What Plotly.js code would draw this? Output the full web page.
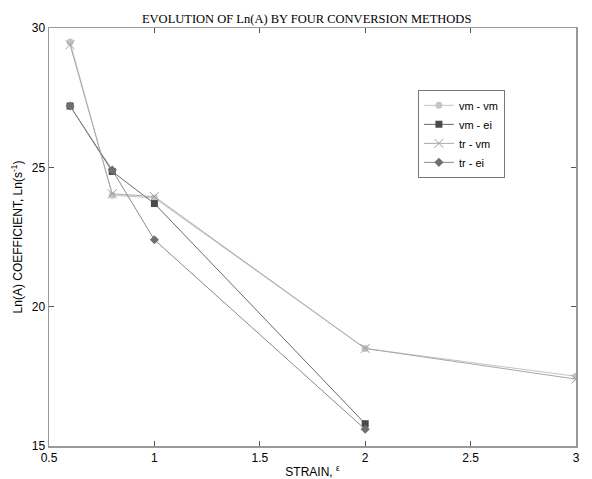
<!DOCTYPE html>
<html>
<head>
<meta charset="utf-8">
<script src="https://cdn.plot.ly/plotly-3.0.1.min.js"></script>
<style>html,body{margin:0;padding:0;background:#fff;}#chart{width:592px;height:479px;}</style>
</head>
<body>
<div id="chart"></div>
<script>
var strain = [0.6, 0.8, 1, 2, 3];
var strainShort = [0.6, 0.8, 1, 2];
var vmvm = [29.5, 24.0, 23.9, 18.5, 17.5];
var vmei = [27.2, 24.85, 23.7, 15.8];
var trvm = [29.4, 24.05, 23.95, 18.5, 17.4];
var trei = [27.2, 24.9, 22.4, 15.6];
var names = ['vm - vm', 'vm - ei', 'tr - vm', 'tr - ei'];

var traces = [
  {x: strain, y: vmvm, name: names[0], mode: 'lines+markers', type: 'scatter',
   line: {color: '#c4c4c4', width: 1}, marker: {symbol: 'circle', size: 7, color: '#c4c4c4'}},
  {x: strainShort, y: vmei, name: names[1], mode: 'lines+markers', type: 'scatter',
   line: {color: '#6a6a6a', width: 1}, marker: {symbol: 'square', size: 7, color: '#4a4a4a'}},
  {x: strain, y: trvm, name: names[2], mode: 'lines+markers', type: 'scatter',
   line: {color: '#a8a8a8', width: 1}, marker: {symbol: 'x-thin-open', size: 9, color: '#a0a0a0', line: {width: 1, color: '#a0a0a0'}}},
  {x: strainShort, y: trei, name: names[3], mode: 'lines+markers', type: 'scatter',
   line: {color: '#8a8a8a', width: 1}, marker: {symbol: 'diamond', size: 7, color: '#6f6f6f'}}
];

var layout = {
  width: 592, height: 479,
  margin: {l: 49, r: 16, t: 28, b: 33},
  paper_bgcolor: '#fff', plot_bgcolor: '#fff',
  font: {family: 'Liberation Sans, Arial, sans-serif', size: 12, color: '#000'},
  title: {text: 'EVOLUTION OF Ln(A) BY FOUR CONVERSION METHODS',
          font: {family: 'Liberation Serif, Times New Roman, serif', size: 12.5, color: '#000'},
          x: 0.518, xanchor: 'center', y: 0.961, yanchor: 'middle'},
  xaxis: {range: [0.5, 3], tickvals: [0.5, 1, 1.5, 2, 2.5, 3], ticktext: ['0.5', '1', '1.5', '2', '2.5', '3'],
          ticks: 'inside', ticklen: 5, tickcolor: '#555', tickwidth: 1,
          showline: true, linecolor: '#999', linewidth: 1.5, mirror: 'ticks',
          showgrid: false, zeroline: false,
          tickfont: {size: 12},
          title: {text: 'STRAIN, <sup>ε</sup>', font: {size: 12}, standoff: 4}},
  yaxis: {range: [15, 30], tickvals: [15, 20, 25, 30],
          ticks: 'inside', ticklen: 5, tickcolor: '#555', tickwidth: 1,
          showline: true, linecolor: '#999', linewidth: 1.5, mirror: 'ticks',
          showgrid: false, zeroline: false,
          tickfont: {size: 12},
          title: {text: 'Ln(A) COEFFICIENT, Ln(s<sup>-1</sup>)', font: {size: 12}, standoff: 6}},
  legend: {x: 0.70, y: 0.852, xanchor: 'left', yanchor: 'top',
           bgcolor: '#fff', bordercolor: '#777', borderwidth: 1,
           font: {size: 11}, tracegroupgap: 0, itemwidth: 30},
  showlegend: true
};

Plotly.newPlot('chart', traces, layout, {displayModeBar: false, staticPlot: true});
</script>
</body>
</html>
